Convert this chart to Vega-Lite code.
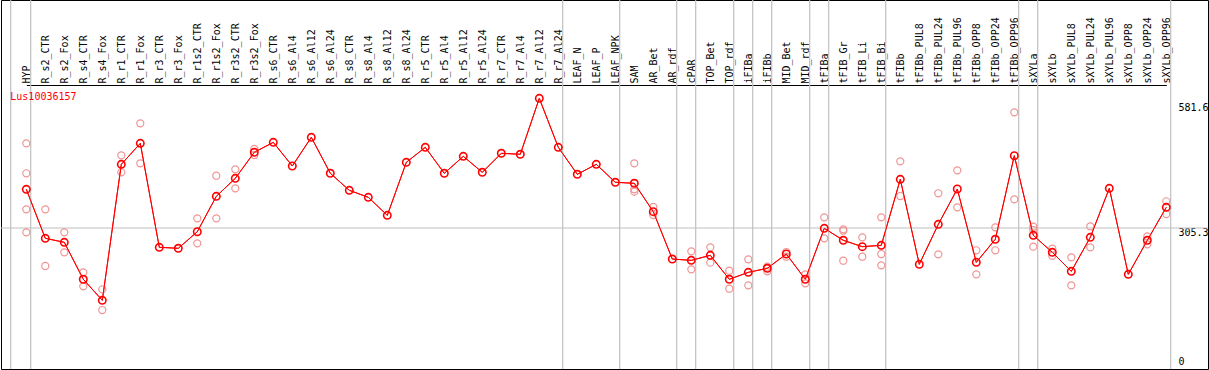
{
  "$schema": "https://vega.github.io/schema/vega-lite/v6.json",
  "width": 1207,
  "height": 369,
  "autosize": {"type": "none"},
  "padding": {"left": 1, "top": 0, "right": 1, "bottom": 1},
  "background": "white",
  "config": {
    "view": {"stroke": "#000000", "strokeWidth": 1},
    "font": "DejaVu Sans Mono"
  },
  "datasets": {
    "means": [
      {"sample": "HYP", "value": 390.8},
      {"sample": "R_s2_CTR", "value": 282.5},
      {"sample": "R_s2_Fox", "value": 273.6},
      {"sample": "R_s4_CTR", "value": 191.9},
      {"sample": "R_s4_Fox", "value": 145.4},
      {"sample": "R_r1_CTR", "value": 446.0},
      {"sample": "R_r1_Fox", "value": 492.4},
      {"sample": "R_r3_CTR", "value": 262.6},
      {"sample": "R_r3_Fox", "value": 260.4},
      {"sample": "R_r1s2_CTR", "value": 297.1},
      {"sample": "R_r1s2_Fox", "value": 375.3},
      {"sample": "R_r3s2_CTR", "value": 415.1},
      {"sample": "R_r3s2_Fox", "value": 472.6},
      {"sample": "R_s6_CTR", "value": 494.6},
      {"sample": "R_s6_Al4", "value": 442.3},
      {"sample": "R_s6_Al12", "value": 505.7},
      {"sample": "R_s6_Al24", "value": 426.2},
      {"sample": "R_s8_CTR", "value": 388.6},
      {"sample": "R_s8_Al4", "value": 373.1},
      {"sample": "R_s8_Al12", "value": 333.3},
      {"sample": "R_s8_Al24", "value": 450.4},
      {"sample": "R_r5_CTR", "value": 483.6},
      {"sample": "R_r5_Al4", "value": 426.2},
      {"sample": "R_r5_Al12", "value": 463.7},
      {"sample": "R_r5_Al24", "value": 428.4},
      {"sample": "R_r7_CTR", "value": 470.4},
      {"sample": "R_r7_Al4", "value": 468.2},
      {"sample": "R_r7_Al12", "value": 591.9},
      {"sample": "R_r7_Al24", "value": 483.6},
      {"sample": "LEAF_N", "value": 424.0},
      {"sample": "LEAF_P", "value": 446.0},
      {"sample": "LEAF_NPK", "value": 406.3},
      {"sample": "SAM", "value": 404.1},
      {"sample": "AR_Bet", "value": 341.4},
      {"sample": "AR_rdf", "value": 236.7},
      {"sample": "cPAR", "value": 233.8},
      {"sample": "TOP_Bet", "value": 244.9},
      {"sample": "TOP_rdf", "value": 191.9},
      {"sample": "iFIBa", "value": 207.3},
      {"sample": "iFIBb", "value": 216.2},
      {"sample": "MID_Bet", "value": 247.8},
      {"sample": "MID_rdf", "value": 191.9},
      {"sample": "tFIBa", "value": 304.6},
      {"sample": "tFIB_Gr", "value": 278.1},
      {"sample": "tFIB_Li", "value": 264.0},
      {"sample": "tFIB_Bi", "value": 267.0},
      {"sample": "tFIBb", "value": 412.9},
      {"sample": "tFIBb_PUL8", "value": 225.0},
      {"sample": "tFIBb_PUL24", "value": 313.4},
      {"sample": "tFIBb_PUL96", "value": 391.5},
      {"sample": "tFIBb_OPP8", "value": 229.4},
      {"sample": "tFIBb_OPP24", "value": 280.3},
      {"sample": "tFIBb_OPP96", "value": 465.1},
      {"sample": "sXYLa", "value": 289.1},
      {"sample": "sXYLb", "value": 251.5},
      {"sample": "sXYLb_PUL8", "value": 209.5},
      {"sample": "sXYLb_PUL24", "value": 284.7},
      {"sample": "sXYLb_PUL96", "value": 393.0},
      {"sample": "sXYLb_OPP8", "value": 202.9},
      {"sample": "sXYLb_OPP24", "value": 278.1},
      {"sample": "sXYLb_OPP96", "value": 351.0}
    ],
    "reps": [
      {"sample": "HYP", "value": 492.4},
      {"sample": "HYP", "value": 426.2},
      {"sample": "HYP", "value": 346.6},
      {"sample": "HYP", "value": 295.7},
      {"sample": "R_s2_CTR", "value": 346.6},
      {"sample": "R_s2_CTR", "value": 221.3},
      {"sample": "R_s2_Fox", "value": 295.7},
      {"sample": "R_s2_Fox", "value": 251.5},
      {"sample": "R_s4_CTR", "value": 207.3},
      {"sample": "R_s4_CTR", "value": 176.4},
      {"sample": "R_s4_Fox", "value": 169.8},
      {"sample": "R_s4_Fox", "value": 124.0},
      {"sample": "R_r1_CTR", "value": 465.9},
      {"sample": "R_r1_CTR", "value": 428.4},
      {"sample": "R_r1_Fox", "value": 536.7},
      {"sample": "R_r1_Fox", "value": 448.2},
      {"sample": "R_r1s2_CTR", "value": 326.7},
      {"sample": "R_r1s2_CTR", "value": 271.4},
      {"sample": "R_r1s2_Fox", "value": 420.9},
      {"sample": "R_r1s2_Fox", "value": 326.7},
      {"sample": "R_r3s2_CTR", "value": 435.0},
      {"sample": "R_r3s2_CTR", "value": 393.0},
      {"sample": "R_r3s2_Fox", "value": 479.9},
      {"sample": "R_r3s2_Fox", "value": 466.6},
      {"sample": "SAM", "value": 448.2},
      {"sample": "SAM", "value": 390.8},
      {"sample": "SAM", "value": 385.6},
      {"sample": "AR_Bet", "value": 351.7},
      {"sample": "AR_Bet", "value": 334.0},
      {"sample": "cPAR", "value": 253.7},
      {"sample": "cPAR", "value": 213.9},
      {"sample": "TOP_Bet", "value": 262.6},
      {"sample": "TOP_Bet", "value": 228.6},
      {"sample": "TOP_rdf", "value": 210.9},
      {"sample": "TOP_rdf", "value": 171.1},
      {"sample": "iFIBa", "value": 236.0},
      {"sample": "iFIBa", "value": 178.6},
      {"sample": "iFIBb", "value": 219.7},
      {"sample": "iFIBb", "value": 209.5},
      {"sample": "MID_Bet", "value": 252.2},
      {"sample": "MID_Bet", "value": 241.8},
      {"sample": "MID_rdf", "value": 202.9},
      {"sample": "MID_rdf", "value": 183.0},
      {"sample": "tFIBa", "value": 328.9},
      {"sample": "tFIBa", "value": 282.5},
      {"sample": "tFIB_Gr", "value": 302.4},
      {"sample": "tFIB_Gr", "value": 299.3},
      {"sample": "tFIB_Gr", "value": 233.0},
      {"sample": "tFIB_Li", "value": 284.7},
      {"sample": "tFIB_Li", "value": 241.8},
      {"sample": "tFIB_Bi", "value": 328.9},
      {"sample": "tFIB_Bi", "value": 247.8},
      {"sample": "tFIB_Bi", "value": 222.8},
      {"sample": "tFIBb", "value": 452.7},
      {"sample": "tFIBb", "value": 376.0},
      {"sample": "tFIBb_PUL24", "value": 382.0},
      {"sample": "tFIBb_PUL24", "value": 247.1},
      {"sample": "tFIBb_PUL96", "value": 432.8},
      {"sample": "tFIBb_PUL96", "value": 351.0},
      {"sample": "tFIBb_OPP8", "value": 256.0},
      {"sample": "tFIBb_OPP8", "value": 202.9},
      {"sample": "tFIBb_OPP24", "value": 306.8},
      {"sample": "tFIBb_OPP24", "value": 256.0},
      {"sample": "tFIBb_OPP96", "value": 561.0},
      {"sample": "tFIBb_OPP96", "value": 368.7},
      {"sample": "sXYLa", "value": 308.1},
      {"sample": "sXYLa", "value": 300.8},
      {"sample": "sXYLa", "value": 264.0},
      {"sample": "sXYLb", "value": 259.5},
      {"sample": "sXYLb", "value": 244.0},
      {"sample": "sXYLb_PUL8", "value": 240.5},
      {"sample": "sXYLb_PUL8", "value": 178.6},
      {"sample": "sXYLb_PUL24", "value": 309.0},
      {"sample": "sXYLb_PUL24", "value": 262.6},
      {"sample": "sXYLb_OPP24", "value": 286.9},
      {"sample": "sXYLb_OPP24", "value": 269.2},
      {"sample": "sXYLb_OPP96", "value": 364.3},
      {"sample": "sXYLb_OPP96", "value": 336.2}
    ],
    "seps_after": [
      {"sample": "HYP"}, {"sample": "R_r7_Al24"}, {"sample": "LEAF_NPK"}, {"sample": "AR_rdf"},
      {"sample": "cPAR"}, {"sample": "TOP_rdf"}, {"sample": "iFIBa"}, {"sample": "iFIBb"},
      {"sample": "MID_rdf"}, {"sample": "tFIBa"}, {"sample": "tFIB_Bi"}, {"sample": "tFIBb_OPP96"},
      {"sample": "sXYLa"}, {"sample": "sXYLb_OPP96"}
    ],
    "seps_before": [{"sample": "HYP"}]
  },
  "layer": [
    {
      "data": {"name": "means"},
      "mark": {"type": "line", "color": "#ff0000", "strokeWidth": 1},
      "encoding": {
        "x": {
          "field": "sample", "type": "ordinal",
          "scale": {
            "type": "point",
            "domain": ["HYP","R_s2_CTR","R_s2_Fox","R_s4_CTR","R_s4_Fox","R_r1_CTR","R_r1_Fox","R_r3_CTR","R_r3_Fox","R_r1s2_CTR","R_r1s2_Fox","R_r3s2_CTR","R_r3s2_Fox","R_s6_CTR","R_s6_Al4","R_s6_Al12","R_s6_Al24","R_s8_CTR","R_s8_Al4","R_s8_Al12","R_s8_Al24","R_r5_CTR","R_r5_Al4","R_r5_Al12","R_r5_Al24","R_r7_CTR","R_r7_Al4","R_r7_Al12","R_r7_Al24","LEAF_N","LEAF_P","LEAF_NPK","SAM","AR_Bet","AR_rdf","cPAR","TOP_Bet","TOP_rdf","iFIBa","iFIBb","MID_Bet","MID_rdf","tFIBa","tFIB_Gr","tFIB_Li","tFIB_Bi","tFIBb","tFIBb_PUL8","tFIBb_PUL24","tFIBb_PUL96","tFIBb_OPP8","tFIBb_OPP24","tFIBb_OPP96","sXYLa","sXYLb","sXYLb_PUL8","sXYLb_PUL24","sXYLb_PUL96","sXYLb_OPP8","sXYLb_OPP24","sXYLb_OPP96"],
            "range": [25.3, 1165.3],
            "padding": 0
          },
          "axis": {
            "orient": "top", "offset": -85, "title": null,
            "labelAngle": -90, "labelAlign": "left", "labelBaseline": "middle",
            "labelPadding": 2, "ticks": false, "tickSize": 0,
            "domain": true, "domainColor": "#000000", "domainWidth": 1.2,
            "grid": false, "labelFont": "DejaVu Sans Mono", "labelFontSize": 10,
            "labelColor": "#000000", "labelOverlap": false, "labelLimit": 0
          }
        },
        "y": {
          "field": "value", "type": "quantitative",
          "scale": {"domain": [-6.37, 809.27], "nice": false, "zero": false},
          "axis": {
            "orient": "right", "offset": -30, "title": null,
            "values": [0, 305.3, 581.6],
            "labelExpr": "'' + datum.value",
            "labelAlign": "left",
            "labelBaseline": {"condition": {"test": "datum.value == 0", "value": "bottom"}, "value": "top"},
            "labelPadding": 0, "ticks": false, "tickSize": 0, "domain": false, "grid": false,
            "labelFont": "DejaVu Sans Mono", "labelFontSize": 10, "labelColor": "#000000"
          }
        }
      }
    },
    {
      "data": {"name": "seps_before"},
      "mark": {"type": "rule", "color": "#c0c0c0", "strokeWidth": 1.2, "xOffset": -15.6},
      "encoding": {"x": {"field": "sample", "type": "ordinal"}}
    },
    {
      "data": {"name": "seps_after"},
      "mark": {"type": "rule", "color": "#c0c0c0", "strokeWidth": 1.2, "xOffset": 4.4},
      "encoding": {"x": {"field": "sample", "type": "ordinal"}}
    },
    {
      "data": {"values": [{"value": 305.3}]},
      "mark": {"type": "rule", "color": "#c0c0c0", "strokeWidth": 1.2},
      "encoding": {"y": {"field": "value", "type": "quantitative"}}
    },
    {
      "data": {"name": "reps"},
      "mark": {"type": "point", "filled": false, "color": "#f09494", "strokeWidth": 1.2, "size": 50, "opacity": 1},
      "encoding": {
        "x": {"field": "sample", "type": "ordinal"},
        "y": {"field": "value", "type": "quantitative"}
      }
    },
    {
      "data": {"name": "means"},
      "mark": {"type": "line", "color": "#ff0000", "strokeWidth": 1},
      "encoding": {
        "x": {"field": "sample", "type": "ordinal"},
        "y": {"field": "value", "type": "quantitative"}
      }
    },
    {
      "data": {"name": "means"},
      "mark": {"type": "point", "filled": false, "color": "#ff0000", "strokeWidth": 1.6, "size": 55, "opacity": 1},
      "encoding": {
        "x": {"field": "sample", "type": "ordinal"},
        "y": {"field": "value", "type": "quantitative"}
      }
    },
    {
      "data": {"values": [{"sample": "HYP", "value": 594.0, "label": "Lus10036157"}]},
      "mark": {"type": "text", "color": "#ff0000", "font": "DejaVu Sans Mono", "fontSize": 10, "align": "left", "baseline": "middle", "dx": -16},
      "encoding": {
        "x": {"field": "sample", "type": "ordinal"},
        "y": {"field": "value", "type": "quantitative"},
        "text": {"field": "label"}
      }
    }
  ]
}
